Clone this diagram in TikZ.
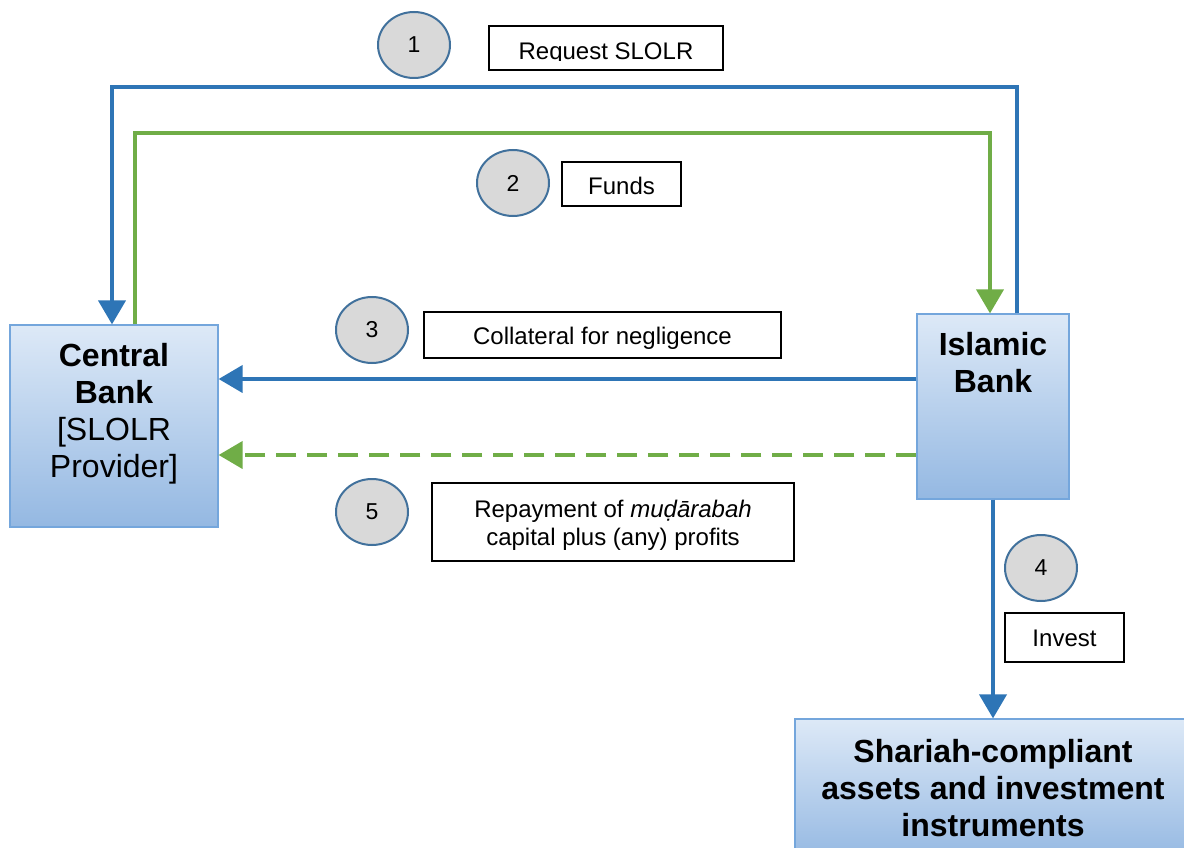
\documentclass[tikz,border=0pt]{standalone}
\usepackage{fontspec}
\setmainfont{Liberation Sans}
\usetikzlibrary{arrows.meta,shapes.geometric}
\definecolor{cblue}{HTML}{2E75B6}
\definecolor{cgreen}{HTML}{70AD47}
\definecolor{boxtop}{HTML}{DDE9F7}
\definecolor{boxbot}{HTML}{94B8E2}
\definecolor{boxedge}{HTML}{74A6DC}
\definecolor{circfill}{HTML}{D9D9D9}
\definecolor{circedge}{HTML}{41719C}
\tikzset{
  bluebox/.style={draw=boxedge, line width=1.2pt, top color=boxtop, bottom color=boxbot, inner sep=0pt},
  numc/.style={ellipse, draw=circedge, fill=circfill, line width=2pt, minimum width=72pt, minimum height=66pt, inner sep=0pt, font=\fontsize{23}{28}\selectfont},
  lblbox/.style={draw=black, line width=1.4pt, fill=white, inner sep=0pt},
  small/.style={font=\fontsize{24}{28}\selectfont, inner sep=0pt, anchor=base},
  big/.style={font=\fontsize{32}{37}\selectfont, align=center, inner sep=0pt, anchor=north},
  blueline/.style={draw=cblue, line width=4pt, -{Triangle[width=27pt,length=24pt]}},
  greenline/.style={draw=cgreen, line width=4pt, -{Triangle[width=27pt,length=24pt]}},
}
\begin{document}
\begin{tikzpicture}[x=1pt,y=-1pt]
\useasboundingbox (0,0) rectangle (1184,848);
% boxes
\node[bluebox, minimum width=208pt, minimum height=202pt] (cb) at (114,426) {};
\node[bluebox, minimum width=152pt, minimum height=185pt] (ib) at (993,406.5) {};
\node[bluebox, minimum width=396pt, minimum height=142pt] (sh) at (993,790) {};
% box texts
\node[big] (cbt) at (114,343) {\textbf{Central}\\\textbf{Bank}\\{[}SLOLR\\Provider{]}};
\node[big] (ibt) at (993,332) {\textbf{Islamic}\\\textbf{Bank}};
\node[big] (sht) at (993,739) {\textbf{Shariah-compliant}\\\textbf{assets and investment}\\\textbf{instruments}};
% helper coordinates
\coordinate (y1) at (0,87);
\coordinate (y2) at (0,133);
\coordinate (y3) at (0,379);
\coordinate (y5) at (0,455);
% connectors
\draw[blueline] ([xshift=24pt]ib.north) -- ([xshift=24pt]ib.north |- y1) -| ([xshift=-2pt]cb.north);
\draw[greenline] ([xshift=21pt]cb.north) -- ([xshift=21pt]cb.north |- y2) -| ([xshift=-3pt]ib.north);
\draw[blueline] (ib.west |- y3) -- (cb.east |- y3);
\draw[greenline, dash pattern=on 20pt off 11pt] (ib.west |- y5) -- (cb.east |- y5);
\draw[blueline] (ib.south) -- (sh.north);
% numbered circles
\node[numc] (n1) at (414,45) {1};
\node[numc] (n2) at (513,183) {2};
\node[numc] (n3) at (372,330) {3};
\node[numc] (n4) at (1041,568) {4};
\node[numc] (n5) at (372,512) {5};
% label boxes
\node[lblbox, minimum width=234pt, minimum height=44pt] (rq) at (606,48) {};
\begin{scope}
\clip (489,26) rectangle (723,61);
\node[small] (rqt) at (606,60) {Request SLOLR};
\end{scope}
\node[lblbox, minimum width=119pt, minimum height=44pt] (fu) at (621.5,184) {};
\node[small] (fut) at (621.5,195) {Funds};
\node[lblbox, minimum width=357pt, minimum height=46pt] (co) at (602.5,335) {};
\node[small] (cot) at (602.5,344.5) {Collateral for negligence};
\node[lblbox, minimum width=362pt, minimum height=78pt] (rp) at (613,522) {};
\node[small] (rpa) at (613,517) {Repayment of \textit{muḍārabah}};
\node[small] (rpb) at (613,545) {capital plus (any) profits};
\node[lblbox, minimum width=119pt, minimum height=49pt] (iv) at (1064.5,637.5) {};
\node[small] (ivt) at (1064.5,646.5) {Invest};
\end{tikzpicture}
\end{document}
